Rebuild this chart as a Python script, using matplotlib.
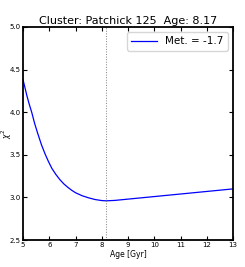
import numpy as np
import matplotlib.pyplot as plt

# valores
edades = [5.0, 5.08, 5.15, 5.24, 5.33, 5.44, 5.55, 5.7, 5.84, 5.97, 6.1, 6.25, 6.4, 6.55, 6.7, 6.85, 7.0, 7.25,
          7.5, 7.75, 8.0, 8.17, 8.5, 9.0, 10.0, 11.0, 12.0, 13.0]
chi2 = [4.38, 4.28, 4.19, 4.09, 4.0, 3.87, 3.76, 3.62, 3.51, 3.42, 3.34, 3.27, 3.21, 3.16, 3.12, 3.085, 3.055, 3.02,
        2.995, 2.975, 2.963, 2.96, 2.965, 2.98, 3.01, 3.04, 3.07, 3.10]
edadMejor = 8.17
etiqueta = "Met. = -1.7"
titulo = "Cluster: Patchick 125  Age: 8.17"

fig = plt.figure(figsize=(2.45, 2.67), dpi=100)
ax = fig.add_axes([0.094, 0.101, 0.857, 0.798])

ax.plot(edades, chi2, color='b', lw=0.9, label=etiqueta)
ax.axvline(edadMejor, color='gray', ls=':', lw=0.7)

ax.set_xlim(5, 13)
ax.set_ylim(2.5, 5.0)
ax.set_xticks(range(5, 14))
ax.set_yticks([2.5, 3.0, 3.5, 4.0, 4.5, 5.0])
ax.tick_params(direction='in', labelsize=5, length=3, top=True, right=True, pad=1.5)
for s in ax.spines.values():
    s.set_linewidth(1.3)

ax.set_xlabel('Age [Gyr]', fontsize=5.5, labelpad=1)
ax.set_ylabel(r'$\chi^2$', fontsize=5.5)
ax.yaxis.set_label_coords(-0.045, 0.5)
ax.set_title(titulo, fontsize=8, pad=2)
ax.legend(loc='upper right', fontsize=7.5, handlelength=2.5, borderpad=0.4)

fig.savefig('out.png', dpi=100)
